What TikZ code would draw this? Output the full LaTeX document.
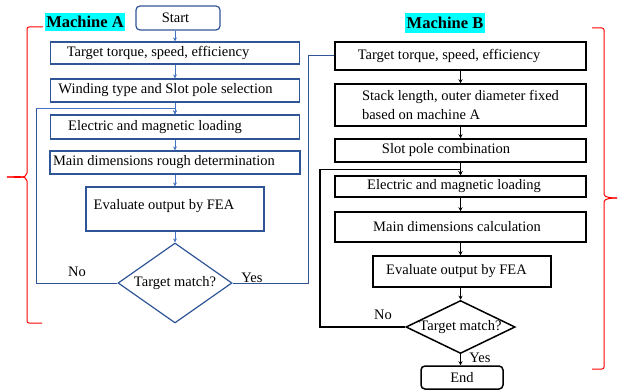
\documentclass[tikz,border=0pt]{standalone}
\usepackage{fontspec}
\setmainfont{Liberation Serif}
\usetikzlibrary{shapes.geometric,arrows.meta}
\definecolor{bdA}{RGB}{47,85,151}
\definecolor{arA}{RGB}{68,114,196}
\definecolor{lbl}{RGB}{0,255,255}
\newcommand{\lsh}[1]{\hspace*{#1pt}}
\tikzset{
  boxA/.style={draw=bdA,line width=1.2pt,inner sep=0pt,font=\fontsize{14.5}{16}\selectfont},
  boxB/.style={draw=black,line width=1.5pt,inner sep=0pt,font=\fontsize{14.5}{16}\selectfont},
  arrA/.style={draw=arA,line width=0.9pt,-{Stealth[length=4pt,width=4pt]}},
  arrB/.style={draw=black,line width=0.9pt,-{Stealth[length=4pt,width=4pt]}},
  lineA/.style={draw=bdA,line width=1pt},
  lineB/.style={draw=black,line width=1.1pt},
  brace/.style={draw=red,line width=1pt},
  title/.style={fill=lbl,inner sep=1pt,font=\fontsize{16.5}{18}\selectfont\bfseries},
  txt/.style={inner sep=0pt,font=\fontsize{14.5}{16}\selectfont}
}
\begin{document}
\begin{tikzpicture}[x=1pt,y=-1pt]
\useasboundingbox (0,0) rectangle (618,390);
% Machine A
\node[title,minimum width=80pt,minimum height=18pt] (tA) at (85,22) {Machine A};
\node[boxA,rounded corners=4pt,minimum width=84pt,minimum height=24pt] (start) at (178,18) {Start\lsh{5}};
\node[boxA,minimum width=249pt,minimum height=22pt] (a1) at (175,53) {Target torque, speed, efficiency\lsh{34}};
\node[boxA,minimum width=249pt,minimum height=23pt] (a2) at (175,90.5) {Winding type and Slot pole selection\lsh{19}};
\node[boxA,minimum width=249pt,minimum height=24pt] (a3) at (175,127) {Electric and magnetic loading\lsh{40}};
\node[boxA,minimum width=250pt,minimum height=23pt] (a4) at (175,162.5) {Main dimensions rough determination\lsh{22}};
\node[boxA,minimum width=178pt,minimum height=44pt] (a5) at (175,209) {};
\node[txt] (a5t) at (164,206) {Evaluate output by FEA};
\node[boxA,shape=diamond,aspect=1.425,minimum width=114pt,minimum height=80pt] (da) at (175,283) {Target match?};
\node[txt] (noA) at (77,272) {No};
\node[txt] (yesA) at (252,278) {Yes};
\coordinate (la) at (36,108);
\coordinate (ra) at (308,56);

\draw[arrA] (start.south -| a1.north) -- (a1.north);
\draw[arrA] (a1.south) -- (a2.north);
\draw[arrA] (a2.south) -- (a3.north);
\draw[arrA] (a3.south) -- (a4.north);
\draw[arrA] (a4.south) -- (a5.north);
\draw[arrA] (a5.south) -- (da.north);
\draw[lineA] (da.west) -| (la);
\draw[arrA] (la) -| (a3.north);

% Machine B
\node[title,minimum width=80pt,minimum height=20pt] (tB) at (445,23) {Machine B};
\node[boxB,minimum width=251pt,minimum height=28pt] (b1) at (460.5,56) {Target torque, speed, efficiency\lsh{23}};
\node[boxB,minimum width=251pt,minimum height=42pt,align=left,font=\fontsize{14.5}{19}\selectfont] (b2) at (460.5,105) {Stack length, outer diameter fixed\\based on machine A};
\node[boxB,minimum width=251pt,minimum height=23pt] (b3) at (460.5,150.5) {Slot pole combination\lsh{29}};
\node[boxB,minimum width=251pt,minimum height=21pt] (b4) at (460.5,186.5) {Electric and magnetic loading\lsh{13}};
\node[boxB,minimum width=251pt,minimum height=30pt] (b5) at (460.5,227) {Main dimensions calculation\lsh{7}};
\node[boxB,minimum width=178pt,minimum height=31pt] (b6) at (462,271.5) {Evaluate output by FEA\lsh{11}};
\node[boxB,shape=diamond,aspect=2.06,minimum width=107pt,minimum height=52pt] (db) at (460.5,327) {Target match?};
\node[boxB,rounded corners=4pt,minimum width=82pt,minimum height=23pt] (endn) at (462,377.5) {End};
\node[txt] (noB) at (383,315) {No};
\node[txt] (yesB) at (480,358) {Yes};
\coordinate (lb) at (320,169);

\draw[lineA] (da.east) -| (ra) -- (b1.west);
\draw[arrB] (b1.south) -- (b2.north);
\draw[arrB] (b2.south) -- (b3.north);
\draw[arrB] (b3.south) -- (b4.north);
\draw[arrB] (b4.south) -- (b5.north);
\draw[arrB] (b5.south) -- (b5.south |- b6.north);
\draw[arrB] (b6.south -| db.north) -- (db.north);
\draw[arrB] (db.south) -- (db.south |- endn.north);
\draw[lineB] (db.west) -| (lb);
\draw[arrB] (lb) -| (b4.north);

% braces
\coordinate (L1) at (43,27);
\coordinate (L2) at (42,323);
\coordinate (Lt) at (7,177);
\draw[brace,rounded corners=2pt] (L1) -- (27,27) -- (27,171) to[out=-90,in=0] (Lt);
\draw[brace,rounded corners=2pt] (Lt) to[out=0,in=90] (27,183) -- (27,323) -- (L2);
\coordinate (R1) at (592,28);
\coordinate (R2) at (592,369);
\coordinate (Rt) at (617,198);
\draw[brace,rounded corners=2pt] (R1) -- (604,28) -- (604,192) to[out=-90,in=180] (Rt);
\draw[brace,rounded corners=2pt] (Rt) to[out=180,in=90] (604,204) -- (604,369) -- (R2);
\end{tikzpicture}
\end{document}
